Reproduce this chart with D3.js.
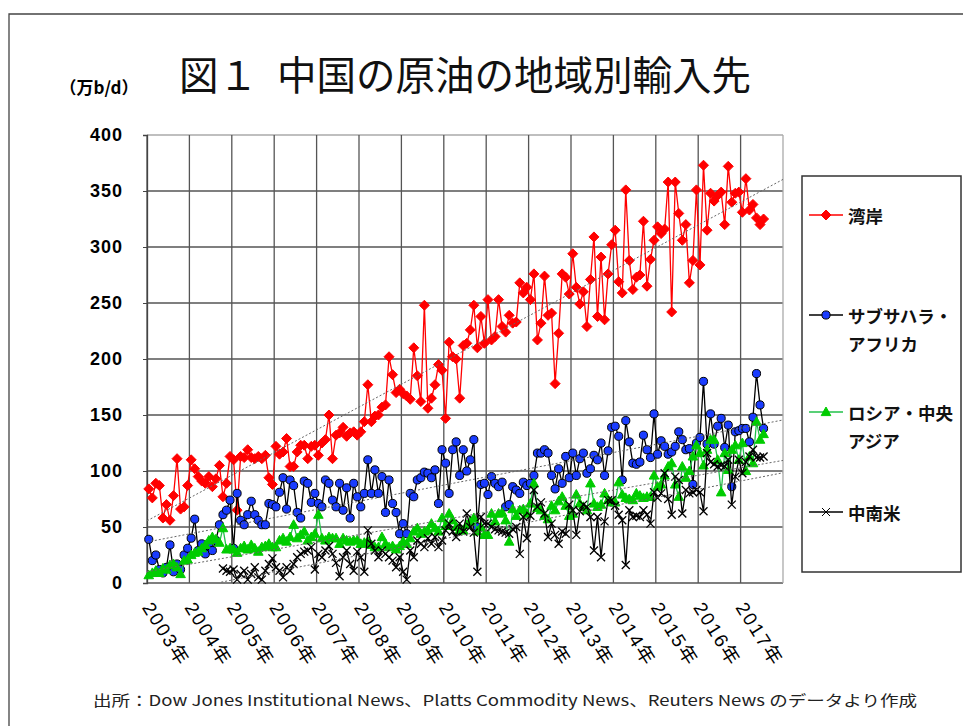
<!DOCTYPE html>
<html>
<head>
<meta charset="utf-8">
<script src="https://cdnjs.cloudflare.com/ajax/libs/d3/7.8.5/d3.min.js"></script>
<style>
  body { margin: 0; background: #fff; }
  svg { display: block; }
</style>
</head>
<body>
<svg id="chart" width="963" height="726"></svg>
<script>
// monthly imports, 万b/d, Jan 2003 - Jul 2017
var years = [2003, 2004, 2005, 2006, 2007, 2008, 2009, 2010, 2011, 2012, 2013, 2014, 2015, 2016, 2017];
var yTicks = [0, 50, 100, 150, 200, 250, 300, 350, 400];

var gulf = [
  84, 76, 89, 87, 58, 70, 56, 78, 111, 66, 68, 87,
  110, 102, 95, 91, 89, 95, 86, 93, 105, 77, 89, 113,
  110, 65, 113, 112, 119, 112, 111, 113, 111, 114, 94, 88,
  122, 115, 117, 129, 104, 104, 117, 123, 123, 111, 122, 123,
  114, 125, 128, 150, 111, 132, 134, 139, 131, 134, 135, 132,
  135, 144, 177, 144, 149, 150, 157, 159, 202, 186, 170, 173,
  169, 167, 164, 210, 185, 162, 248, 156, 165, 177, 195, 190,
  147, 215, 202, 200, 165, 212, 214, 226, 248, 210, 238, 214,
  253, 217, 220, 253, 229, 224, 239, 232, 233, 268, 259, 264,
  253, 276, 217, 232, 274, 239, 241, 178, 223, 276, 273, 258,
  294, 264, 249, 260, 229, 271, 309, 238, 291, 235, 276, 302,
  315, 269, 259, 351, 288, 262, 273, 275, 323, 265, 289, 306,
  318, 312, 316, 358, 242, 358, 330, 306, 320, 268, 288, 351,
  284, 373, 315, 348, 341, 346, 349, 320, 372, 340, 348, 349,
  331, 361, 333, 338, 326, 320, 325
];

var subSahara = [
  39, 20, 25, 12, 9, 14, 34, 10, 17, 12, 25, 31,
  40, 57, 29, 35, 26, 33, 29, 38, 52, 61, 65, 74,
  31, 80, 56, 52, 61, 73, 61, 56, 52, 52, 71, 70,
  68, 81, 94, 66, 92, 87, 63, 58, 91, 89, 72, 80,
  71, 68, 92, 89, 74, 68, 89, 65, 85, 58, 89, 77,
  68, 80, 110, 80, 101, 80, 95, 63, 92, 71, 63, 44,
  53, 44, 80, 77, 92, 94, 99, 98, 94, 101, 71, 119,
  107, 80, 119, 126, 96, 119, 100, 110, 128, 50, 88, 89,
  79, 95, 89, 86, 90, 68, 70, 86, 83, 80, 90, 87,
  89, 96, 116, 116, 119, 116, 96, 84, 102, 89, 113, 94,
  116, 96, 111, 116, 98, 102, 114, 110, 125, 96, 118, 139,
  140, 131, 92, 145, 126, 107, 106, 108, 132, 119, 112, 151,
  115, 127, 122, 115, 117, 122, 135, 128, 119, 120, 88, 125,
  130, 180, 124, 151, 124, 140, 147, 121, 141, 86, 135, 136,
  138, 138, 126, 148, 187, 159, 138
];

var russiaCA = [
  7, 9, 11, 9, 13, 12, 16, 17, 14, 8, 20, 21,
  25, 27, 28, 31, 34, 38, 41, 39, 36, 49, 30, 31,
  30, 27, 31, 33, 30, 34, 31, 28, 32, 33, 35, 32,
  32, 38, 40, 37, 41, 52, 40, 43, 46, 38, 41, 44,
  61, 40, 38, 41, 40, 40, 35, 40, 38, 37, 38, 38,
  35, 36, 37, 34, 32, 32, 41, 35, 32, 33, 30, 33,
  37, 35, 40, 46, 49, 44, 46, 47, 53, 49, 46, 58,
  51, 62, 56, 50, 47, 47, 52, 55, 58, 46, 50, 43,
  43, 62, 55, 62, 63, 56, 37, 66, 60, 65, 66, 62,
  71, 89, 67, 65, 60, 57, 69, 65, 73, 77, 69, 60,
  62, 79, 71, 68, 65, 89, 71, 68, 70, 80, 74, 72,
  72, 90, 79, 76, 75, 74, 80, 78, 76, 77, 77, 96,
  86, 88, 96, 104, 107, 88, 77, 104, 94, 100, 113, 123,
  116, 105, 119, 128, 128, 110, 81, 116, 101, 119, 123, 110,
  125, 100, 113, 107, 144, 128, 133
];

var latinAm = [
  null, null, null, null, null, null, null, null, null, null, null, null,
  null, null, null, null, null, null, null, null, null, 13, 11, 10,
  12, 3, 8, 11, 3, 8, 14, 5, 3, 11, 17, 22,
  14, 11, 5, 14, 11, 17, 23, 26, 28, 29, 32, 12,
  26, 23, 29, 33, 26, 18, 6, 23, 29, 17, 11, 28,
  23, 10, 47, 35, 29, 23, 29, 26, 23, 20, 14, 23,
  10, 3, 29, 23, 38, 35, 32, 40, 35, 41, 32, 38,
  47, 53, 46, 41, 53, 46, 62, 50, 45, 10, 59, 53,
  53, 50, 48, 47, 46, 45, 44, 48, 50, 26, 59, 40,
  60, 83, 68, 72, 62, 41, 53, 43, 35, 46, 44, 70,
  65, 43, 64, 70, 68, 59, 29, 59, 23, 55, 74, 74,
  69, 61, 56, 16, 65, 59, 60, 59, 65, 61, 53, 81,
  76, 80, 98, 75, 61, 95, 92, 62, 83, 80, 81, 83,
  81, 64, 116, 108, 106, 104, 105, 104, 110, 70, 95, 110,
  98, 108, 113, 119, 112, 112, 113
];

var seriesNames = [["湾岸"], ["サブサハラ・", "アフリカ"], ["ロシア・中央", "アジア"], ["中南米"]];

var series = [
  {values: gulf,      line: "#ff0000", marker: "diamond",  fill: "#ff0000", stroke: "#ff0000"},
  {values: subSahara, line: "#000000", marker: "circle",   fill: "#1a3cff", stroke: "#000000"},
  {values: russiaCA,  line: "#22c04a", marker: "triangle", fill: "#00cc00", stroke: "#00cc00"},
  {values: latinAm,   line: "#000000", marker: "cross",    fill: "none",    stroke: "#000000"}
];

var svg = d3.select("#chart");
var nMonths = 180;

var xScale = d3.scaleLinear().domain([0, nMonths]).range([147, 783]);
var yScale = d3.scaleLinear().domain([0, 400]).range([583, 135]);

// outer frame (only top and left edges show)
svg.append("path")
  .attr("d", "M9,726 L9,14 L963,14")
  .attr("fill", "none")
  .attr("stroke", "#444")
  .attr("stroke-width", 1.3);

// title
var title = svg.append("text")
  .attr("y", 90)
  .attr("font-family", "'Noto Sans CJK JP'")
  .attr("font-size", 39.5)
  .attr("fill", "#111");
title.append("tspan").attr("x", 179).text("図１");
title.append("tspan").attr("x", 277).text("中国の原油の地域別輸入先");

// unit label
svg.append("text")
  .attr("x", 99).attr("y", 94)
  .attr("text-anchor", "middle")
  .attr("font-family", "'Noto Sans CJK JP'")
  .attr("font-weight", "bold")
  .attr("font-size", 17)
  .text("（万b/d）");

// grid
var grid = svg.append("g");
grid.selectAll(".hgrid")
  .data(yTicks)
  .join("line")
  .attr("x1", xScale(0)).attr("x2", xScale(nMonths))
  .attr("y1", (d) => yScale(d)).attr("y2", (d) => yScale(d))
  .attr("stroke", (d) => d == 400 ? "#aaa" : "#555")
  .attr("stroke-width", 1.3);

grid.selectAll(".vgrid")
  .data(d3.range(0, nMonths + 1, 12))
  .join("line")
  .attr("x1", (d) => xScale(d)).attr("x2", (d) => xScale(d))
  .attr("y1", yScale(0)).attr("y2", yScale(400))
  .attr("stroke", (d) => d == nMonths ? "#aaa" : "#555")
  .attr("stroke-width", 1.3);

// y axis
var yAxis = d3.axisLeft(yScale)
  .tickValues(yTicks)
  .tickSize(4)
  .tickPadding(20);

var yg = svg.append("g")
  .attr("transform", `translate(${xScale(0)},0)`)
  .call(yAxis);
yg.select(".domain").attr("stroke", "#444").attr("stroke-width", 1.3);
yg.selectAll(".tick line").attr("stroke", "#444");
yg.selectAll("text")
  .attr("font-family", "'Liberation Sans', Arial, sans-serif")
  .attr("font-weight", "bold")
  .attr("font-size", 18)
  .attr("letter-spacing", 1)
  .attr("fill", "#000");

// x labels, rotated
svg.append("g")
  .selectAll("text")
  .data(years)
  .join("text")
  .attr("x", (d, i) => xScale(i * 12))
  .attr("y", 604)
  .attr("dominant-baseline", "central")
  .attr("transform", (d, i) => `rotate(58, ${xScale(i * 12)}, 604)`)
  .attr("font-family", "'Liberation Sans', 'Noto Sans CJK JP', sans-serif")
  .attr("font-size", 19)
  .attr("letter-spacing", 2)
  .attr("fill", "#000")
  .text((d) => d + "年");

// markers
function markerPath(kind){
  if(kind == "diamond") return "M0,-5L5,0L0,5L-5,0Z";
  if(kind == "triangle") return "M0,-5L4.8,3.6L-4.8,3.6Z";
  if(kind == "cross") return "M-4,-4L4,4M-4,4L4,-4";
  return d3.symbol().type(d3.symbolCircle).size(52)();
}

var lineGen = d3.line()
  .defined((d) => d.v != null)
  .x((d) => xScale(d.i + 0.5))
  .y((d) => yScale(d.v));

series.forEach((s) => {
  var pts = s.values.map((v, i) => ({i: i, v: v}));
  var g = svg.append("g");
  g.append("path")
    .attr("d", lineGen(pts))
    .attr("fill", "none")
    .attr("stroke", s.line)
    .attr("stroke-width", 1.3);
  g.selectAll("path.m")
    .data(pts.filter((d) => d.v != null))
    .join("path")
    .attr("class", "m")
    .attr("transform", (d) => `translate(${xScale(d.i + 0.5)},${yScale(d.v)})`)
    .attr("d", markerPath(s.marker))
    .attr("fill", s.fill)
    .attr("stroke", s.stroke)
    .attr("stroke-width", s.marker == "cross" ? 1.3 : 1);
});

// linear trend lines (dotted)
series.forEach((s) => {
  var pts = s.values.map((v, i) => [i + 0.5, v]).filter((d) => d[1] != null);
  var mx = d3.mean(pts, (d) => d[0]), my = d3.mean(pts, (d) => d[1]);
  var sxy = d3.sum(pts, (d) => (d[0] - mx) * (d[1] - my));
  var sxx = d3.sum(pts, (d) => (d[0] - mx) * (d[0] - mx));
  var b = sxy / sxx, a = my - b * mx;
  var x0 = pts[0][0] - 0.5, x1 = nMonths;
  svg.append("line")
    .attr("x1", xScale(x0)).attr("y1", yScale(a + b * x0))
    .attr("x2", xScale(x1)).attr("y2", yScale(a + b * x1))
    .attr("stroke", "#666")
    .attr("stroke-width", 1)
    .attr("stroke-dasharray", "2,2");
});

// legend
svg.append("rect")
  .attr("x", 802).attr("y", 176)
  .attr("width", 159).attr("height", 396)
  .attr("fill", "#fff")
  .attr("stroke", "#333")
  .attr("stroke-width", 1.5);

var legendY = [215, 315, 412, 512];
var leg = svg.append("g")
  .selectAll("g")
  .data(series)
  .join("g")
  .attr("transform", (d, i) => `translate(0,${legendY[i]})`);

leg.append("line")
  .attr("x1", 809).attr("x2", 843)
  .attr("stroke", (d) => d.line)
  .attr("stroke-width", 1.5);
leg.append("path")
  .attr("transform", "translate(826,0)")
  .attr("d", (d) => markerPath(d.marker))
  .attr("fill", (d) => d.fill)
  .attr("stroke", (d) => d.stroke)
  .attr("stroke-width", 1);

leg.each(function(d, i){
  d3.select(this).selectAll("text")
    .data(seriesNames[i])
    .join("text")
    .attr("x", 848)
    .attr("y", (t, j) => j * 28)
    .attr("dominant-baseline", "central")
    .attr("font-family", "'Noto Sans CJK JP'")
    .attr("font-weight", "bold")
    .attr("font-size", 17.5)
    .attr("fill", "#111")
    .text((t) => t);
});

// source note
svg.append("text")
  .attr("x", 93).attr("y", 706)
  .attr("font-family", "'Noto Sans CJK JP'")
  .attr("font-size", 15)
  .attr("textLength", 824)
  .attr("lengthAdjust", "spacingAndGlyphs")
  .attr("fill", "#222")
  .text("出所：Dow Jones Institutional News、Platts Commodity News、Reuters News のデータより作成");
</script>
</body>
</html>
